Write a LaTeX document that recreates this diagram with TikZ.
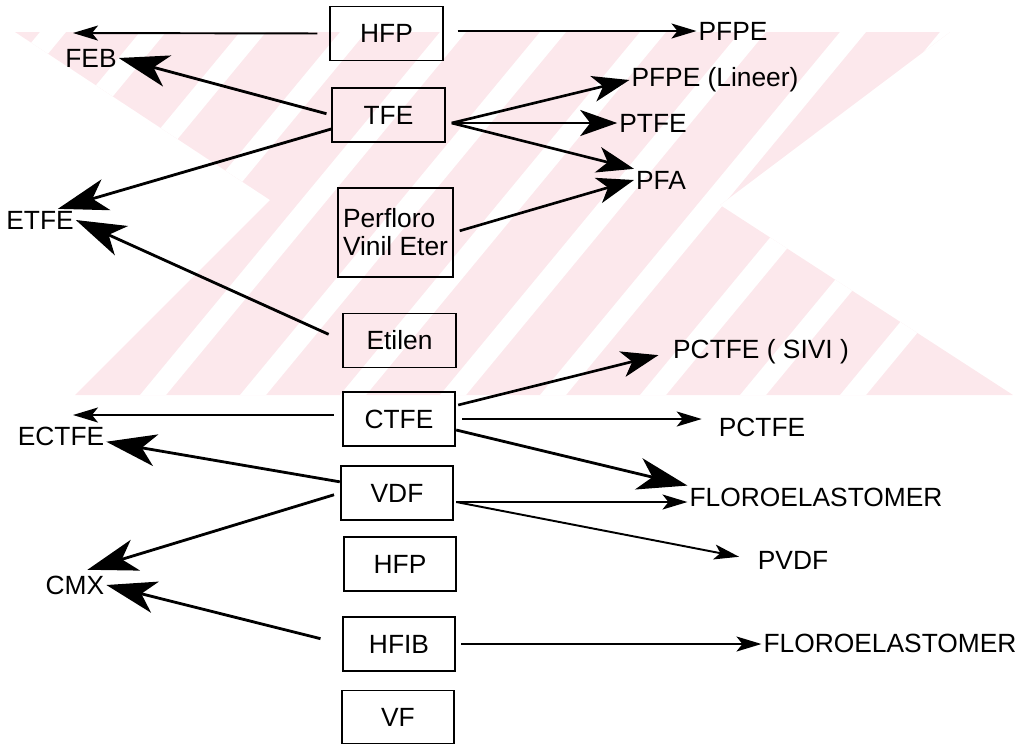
\documentclass[tikz,border=0pt]{standalone}
\usepackage{fontspec}
\setmainfont{Liberation Sans}
\usepackage{tikz}
\usetikzlibrary{calc}
\usetikzlibrary{positioning}
\usetikzlibrary{arrows.meta}
\usepackage{xcolor}
\definecolor{wmark}{RGB}{252,232,236}

\begin{document}
\begin{tikzpicture}[
					x=0.02cm, y=-0.02cm,
					font=\fontsize{15}{16}\selectfont,
					b/.style={rectangle, draw=black, line width=1.1pt, minimum width=2.25cm, minimum height=1.08cm, inner sep=1pt},
					l/.style={inner sep=1pt},
					t/.style={-{Stealth[length=0.5cm, width=0.3cm, inset=0.12cm]}, line width=1.1pt},
					m/.style={-{Stealth[length=0.74cm, width=0.52cm, inset=0.2cm]}, line width=1.5pt},
					g/.style={-{Stealth[length=1.0cm, width=0.64cm, inset=0.28cm]}, line width=1.6pt}
					]
					\useasboundingbox (0,0) rectangle (1024,745);
					
					%Watermark
					\begin{scope}
						\clip (15,32) -- (950,32) -- (720,205) -- (1013,395) -- (75,395) -- (270,200) -- cycle;
						\fill[wmark] (0,0) rectangle (1024,400);
						\foreach \s in {-260,-160,...,840}
							\fill[white] (\s,395) -- ++(26,0) -- ++(300,-363) -- ++(-26,0) -- cycle;
					\end{scope}
					
					%Boxes
					\node[b] (hfpa)   at (386.5,33.5) {HFP};
					\node[b] (tfe)    at (388.5,115)  {TFE};
					\node[b, minimum width=2.3cm, minimum height=1.78cm, align=left] (pve) at (395.5,232.5) {Perfloro\\Vinil Eter};
					\node[b] (etilen) at (399.5,340.5) {Etilen};
					\node[b] (ctfe)   at (399,419)    {CTFE};
					\node[b] (vdf)    at (397,493)    {VDF};
					\node[b] (hfpb)   at (400,564)    {HFP};
					\node[b] (hfib)   at (399,644)    {HFIB};
					\node[b, minimum height=1.06cm] (vf) at (398,717) {VF};
					
					%Products
					\node[l] (pfpe)  at (733,31)  {PFPE};
					\node[l] (feb)   at (91,58)   {FEB};
					\node[l] (pfpel) at (715,80)  {PFPE (Lineer)};
					\node[l] (ptfe)  at (653,123) {PTFE};
					\node[l] (pfa)   at (661,180) {PFA};
					\node[l] (etfe)  at (40,220)  {ETFE};
					\node[l] (sivi)  at (761,352) {PCTFE ( SIVI )};
					\node[l] (ectfe) at (61,436)  {ECTFE};
					\node[l] (pctfe) at (762,427) {PCTFE};
					\node[l] (floa)  at (816,497) {FLOROELASTOMER};
					\node[l] (pvdf)  at (793,560) {PVDF};
					\node[l] (cmx)   at (75,585)  {CMX};
					\node[l] (flob)  at (890,643) {FLOROELASTOMER};
					
					\coordinate (febtip)   at (73,33);
					\coordinate (ectfetip) at (73,415);
					\coordinate (tfeout)   at ($(tfe.east)+(6,8)$);
					\coordinate (vdfout)   at ($(vdf.east)+(2,9)$);
					
					%Lines
					\draw[t, shorten <=0.24cm] (hfpa.west) -- (febtip);
					\draw[t, shorten <=0.28cm] (hfpa.east |- pfpe.west) -- (pfpe.west);
					\draw[g, shorten <=0.1cm] (tfe.west) -- (feb.east);
					\draw[g] ($(tfe.west)!0.5!(tfe.south west)$) -- ($(etfe.north)!0.5!(etfe.north east)$);
					\draw[g, shorten <=0.3cm] (etilen.west) -- (etfe.east);
					\draw[m] (tfeout) -- (pfpel.west);
					\draw[m] (tfeout) -- (ptfe.west);
					\draw[m] (tfeout) -- (pfa.north west);
					\draw[m, shorten <=0.12cm] (pve.east) -- (pfa.west);
					\draw[t, shorten <=0.16cm] (ctfe.west |- ectfetip) -- (ectfetip);
					\draw[m, shorten >=0.26cm] ($(ctfe.east)+(2,-14)$) -- (sivi.west);
					\draw[t, shorten <=0.12cm, shorten >=0.3cm] (ctfe.east) -- (ctfe.east -| pctfe.west);
					\draw[g] ($(ctfe.east)+(0,11)$) -- (floa.north west);
					\draw[t] (vdfout) -- (vdfout -| floa.west);
					\draw[t, shorten >=0.34cm] (vdfout) -- (pvdf.west);
					\draw[g] ($(vdf.north west)!0.3!(vdf.south west)$) -- ($(ectfe.east)!0.5!(ectfe.south east)$);
					\draw[g, shorten <=0.12cm, shorten >=0.26cm] (vdf.west) -- (cmx.north);
					\draw[g, shorten <=0.44cm] (hfib.west) -- (cmx.east);
					\draw[t, shorten <=0.1cm] (hfib.east) -- (hfib.east -| flob.west);
				\end{tikzpicture}
\end{document}
